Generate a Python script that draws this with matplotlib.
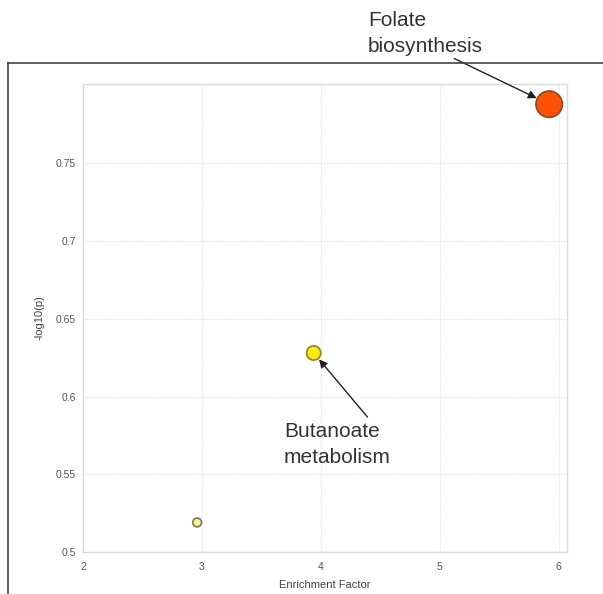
import matplotlib.pyplot as plt
from matplotlib.lines import Line2D

plt.rcParams['font.family'] = ['Liberation Sans', 'DejaVu Sans']

# Pathway enrichment values
pathways = ['Folate biosynthesis', 'Butanoate metabolism', 'Other pathway']
enrichment = [5.92, 3.94, 2.96]
neg_log_p = [0.788, 0.628, 0.519]
dot_sizes = [360, 105, 40]
fill_colors = ['#ff5208', '#ffe810', '#f6f0a6']
edge_colors = ['#8a4a20', '#8f8420', '#7f7a45']

fig = plt.figure(figsize=(6.03, 5.94), dpi=100)
ax = fig.add_axes([0.1376, 0.0707, 0.8027, 0.7879])

ax.scatter(enrichment, neg_log_p, s=dot_sizes, c=fill_colors,
           edgecolors=edge_colors, linewidths=1.2, zorder=3)

ax.set_xlim(2, 6.07)
ax.set_ylim(0.5, 0.801)
ax.set_xticks([2, 3, 4, 5, 6])
ax.set_yticks([0.5, 0.55, 0.6, 0.65, 0.7, 0.75])
ax.set_yticklabels(['0.5', '0.55', '0.6', '0.65', '0.7', '0.75'])
ax.tick_params(length=0, labelsize=7.5, labelcolor='#555555')
ax.tick_params(axis='x', pad=7)
ax.tick_params(axis='y', pad=5)
ax.grid(True, color='#ebebeb', linestyle=(0, (2, 1)), linewidth=0.8)
ax.set_axisbelow(True)
for side in ax.spines.values():
    side.set_color('#dcdcdc')
    side.set_linewidth(1.0)

ax.set_xlabel('Enrichment Factor', fontsize=8, color='#444444', labelpad=6)
ax.set_ylabel('-log10(p)', fontsize=8, color='#444444', labelpad=8)

# callouts
ax.annotate('Folate\nbiosynthesis', xy=(enrichment[0], neg_log_p[0]),
            xytext=(368, 583), textcoords='figure pixels',
            fontsize=15, color='#333333', ha='left', va='top',
            linespacing=1.45, annotation_clip=False,
            arrowprops=dict(arrowstyle='-|>', color='#222222', lw=1.0,
                            shrinkA=0, shrinkB=10, mutation_scale=12,
                            relpos=(0.7, 0.0)))
ax.annotate('Butanoate\nmetabolism', xy=(enrichment[1], neg_log_p[1]),
            xytext=(284, 172), textcoords='figure pixels',
            fontsize=15, color='#333333', ha='left', va='top',
            linespacing=1.45,
            arrowprops=dict(arrowstyle='-|>', color='#222222', lw=1.0,
                            shrinkA=2, shrinkB=6, mutation_scale=12,
                            relpos=(0.82, 1.0)))

# outer frame from the original screenshot
fig.add_artist(Line2D([8 / 603, 1.0], [1 - 63 / 594, 1 - 63 / 594],
                      color='#444444', lw=1.2, transform=fig.transFigure))
fig.add_artist(Line2D([8 / 603, 8 / 603], [0.0, 1 - 63 / 594],
                      color='#444444', lw=1.2, transform=fig.transFigure))

fig.savefig('out.png', dpi=100)
